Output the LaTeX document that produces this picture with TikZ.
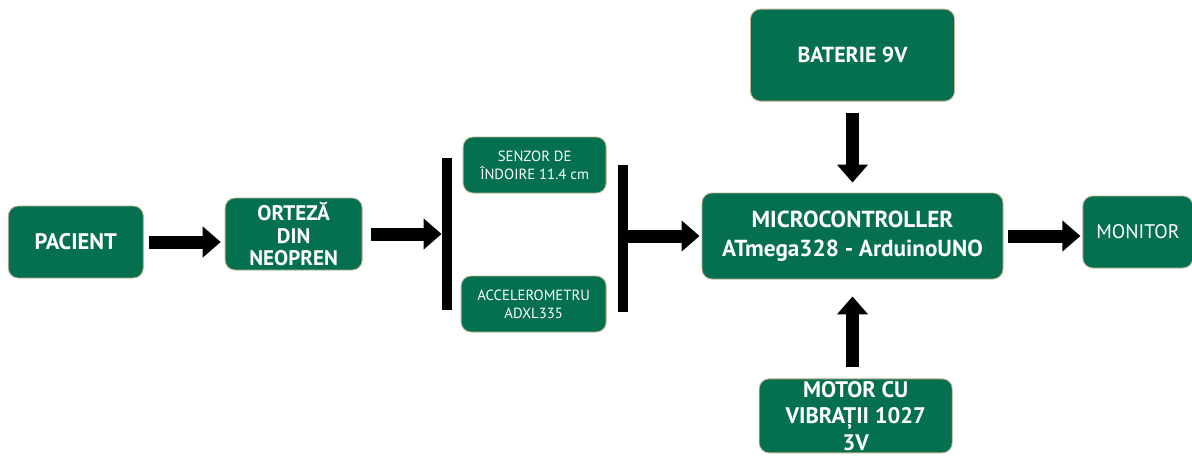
\documentclass[tikz,border=0pt]{standalone}
\usepackage{fontspec}
\setmainfont{PT Sans}
\usetikzlibrary{positioning,arrows.meta}
\definecolor{boxgreen}{RGB}{4,112,80}
\definecolor{boxedge}{RGB}{190,176,140}

\begin{document}
\begin{tikzpicture}[
   block/.style={draw=boxedge,fill=boxgreen,text=white,rounded corners=0.25cm,
     line width=0.6pt,align=center,inner sep=0pt},
   bigtext/.style={font=\bfseries\fontsize{#1}{21}\selectfont},
   smalltext/.style={font=\fontsize{10.5}{13}\selectfont},
   flow/.style={-{Triangle[width=0.75cm,length=0.45cm]},line width=0.325cm},
   bar/.style={line width=0.25cm}]
  \useasboundingbox (0,0) rectangle (29.8,-11.375);
  % central block
  \node[block,bigtext=16.5,minimum width=7.525cm,minimum height=2.15cm]
     (mcu) at (21.3125,-5.9) {MICROCONTROLLER\\ATmega328 - ArduinoUNO};
  \node[block,bigtext=15.5,minimum width=5.1cm,minimum height=2.3cm]
     (bat) [above=2.275cm of mcu] {BATERIE 9V};
  \node[block,font=\bfseries\fontsize{16}{19}\selectfont,minimum width=4.825cm,minimum height=1.85cm]
     (motor) [below=2.475cm of mcu,xshift=0.08cm] {MOTOR CU\\VIBRAȚII 1027\\3V};
  \node[block,font=\fontsize{14}{18}\selectfont,minimum width=2.75cm,minimum height=1.8cm]
     (monitor) [right=1.975cm of mcu,yshift=0.1cm] {MONITOR};
  % brackets
  \coordinate[left=1.975cm of mcu.west] (rb);
  \coordinate[left=4.4cm of rb] (lb);
  \node[block,smalltext,minimum width=3.575cm,minimum height=1.4cm]
     (senzor) [left=0.4cm of rb,yshift=1.775cm] {SENZOR DE\\ÎNDOIRE 11.4 cm};
  \node[block,smalltext,minimum width=3.625cm,minimum height=1.4cm]
     (accel) [left=0.4cm of rb,yshift=-1.7cm] {ACCELEROMETRU\\ADXL335};
  % left chain
  \node[block,font=\bfseries\fontsize{15}{16}\selectfont,minimum width=3.425cm,minimum height=1.8cm]
     (orteza) [left=2.1cm of lb,yshift=0.05cm] {ORTEZĂ\\DIN\\NEOPREN};
  \node[block,bigtext=16,minimum width=3.375cm,minimum height=1.8cm]
     (pacient) [left=2.025cm of orteza,yshift=-0.2cm] {PACIENT};
  \draw[bar] ([yshift=1.95cm]lb) -- ([yshift=-1.85cm]lb);
  \draw[bar] ([yshift=1.775cm]rb) -- ([yshift=-1.9cm]rb);
  % arrows
  \draw[flow,shorten <=0.125cm,shorten >=0.1cm] (pacient.east) -- (pacient.east -| orteza.west);
  \draw[flow,shorten <=0.2cm,shorten >=0.125cm] (orteza.east) -- (orteza.east -| lb);
  \draw[flow,shorten <=0.1cm,shorten >=0.05cm] (rb) -- (mcu.west);
  \draw[flow,shorten <=0.125cm,shorten >=0.05cm] (mcu.east) -- (mcu.east -| monitor.west);
  \draw[flow,shorten <=0.275cm,shorten >=0.25cm] (bat.south) -- (bat.south |- mcu.north);
  \draw[flow,shorten <=0.275cm,shorten >=0.425cm] (mcu.south |- motor.north) -- (mcu.south);
\end{tikzpicture}
\end{document}
